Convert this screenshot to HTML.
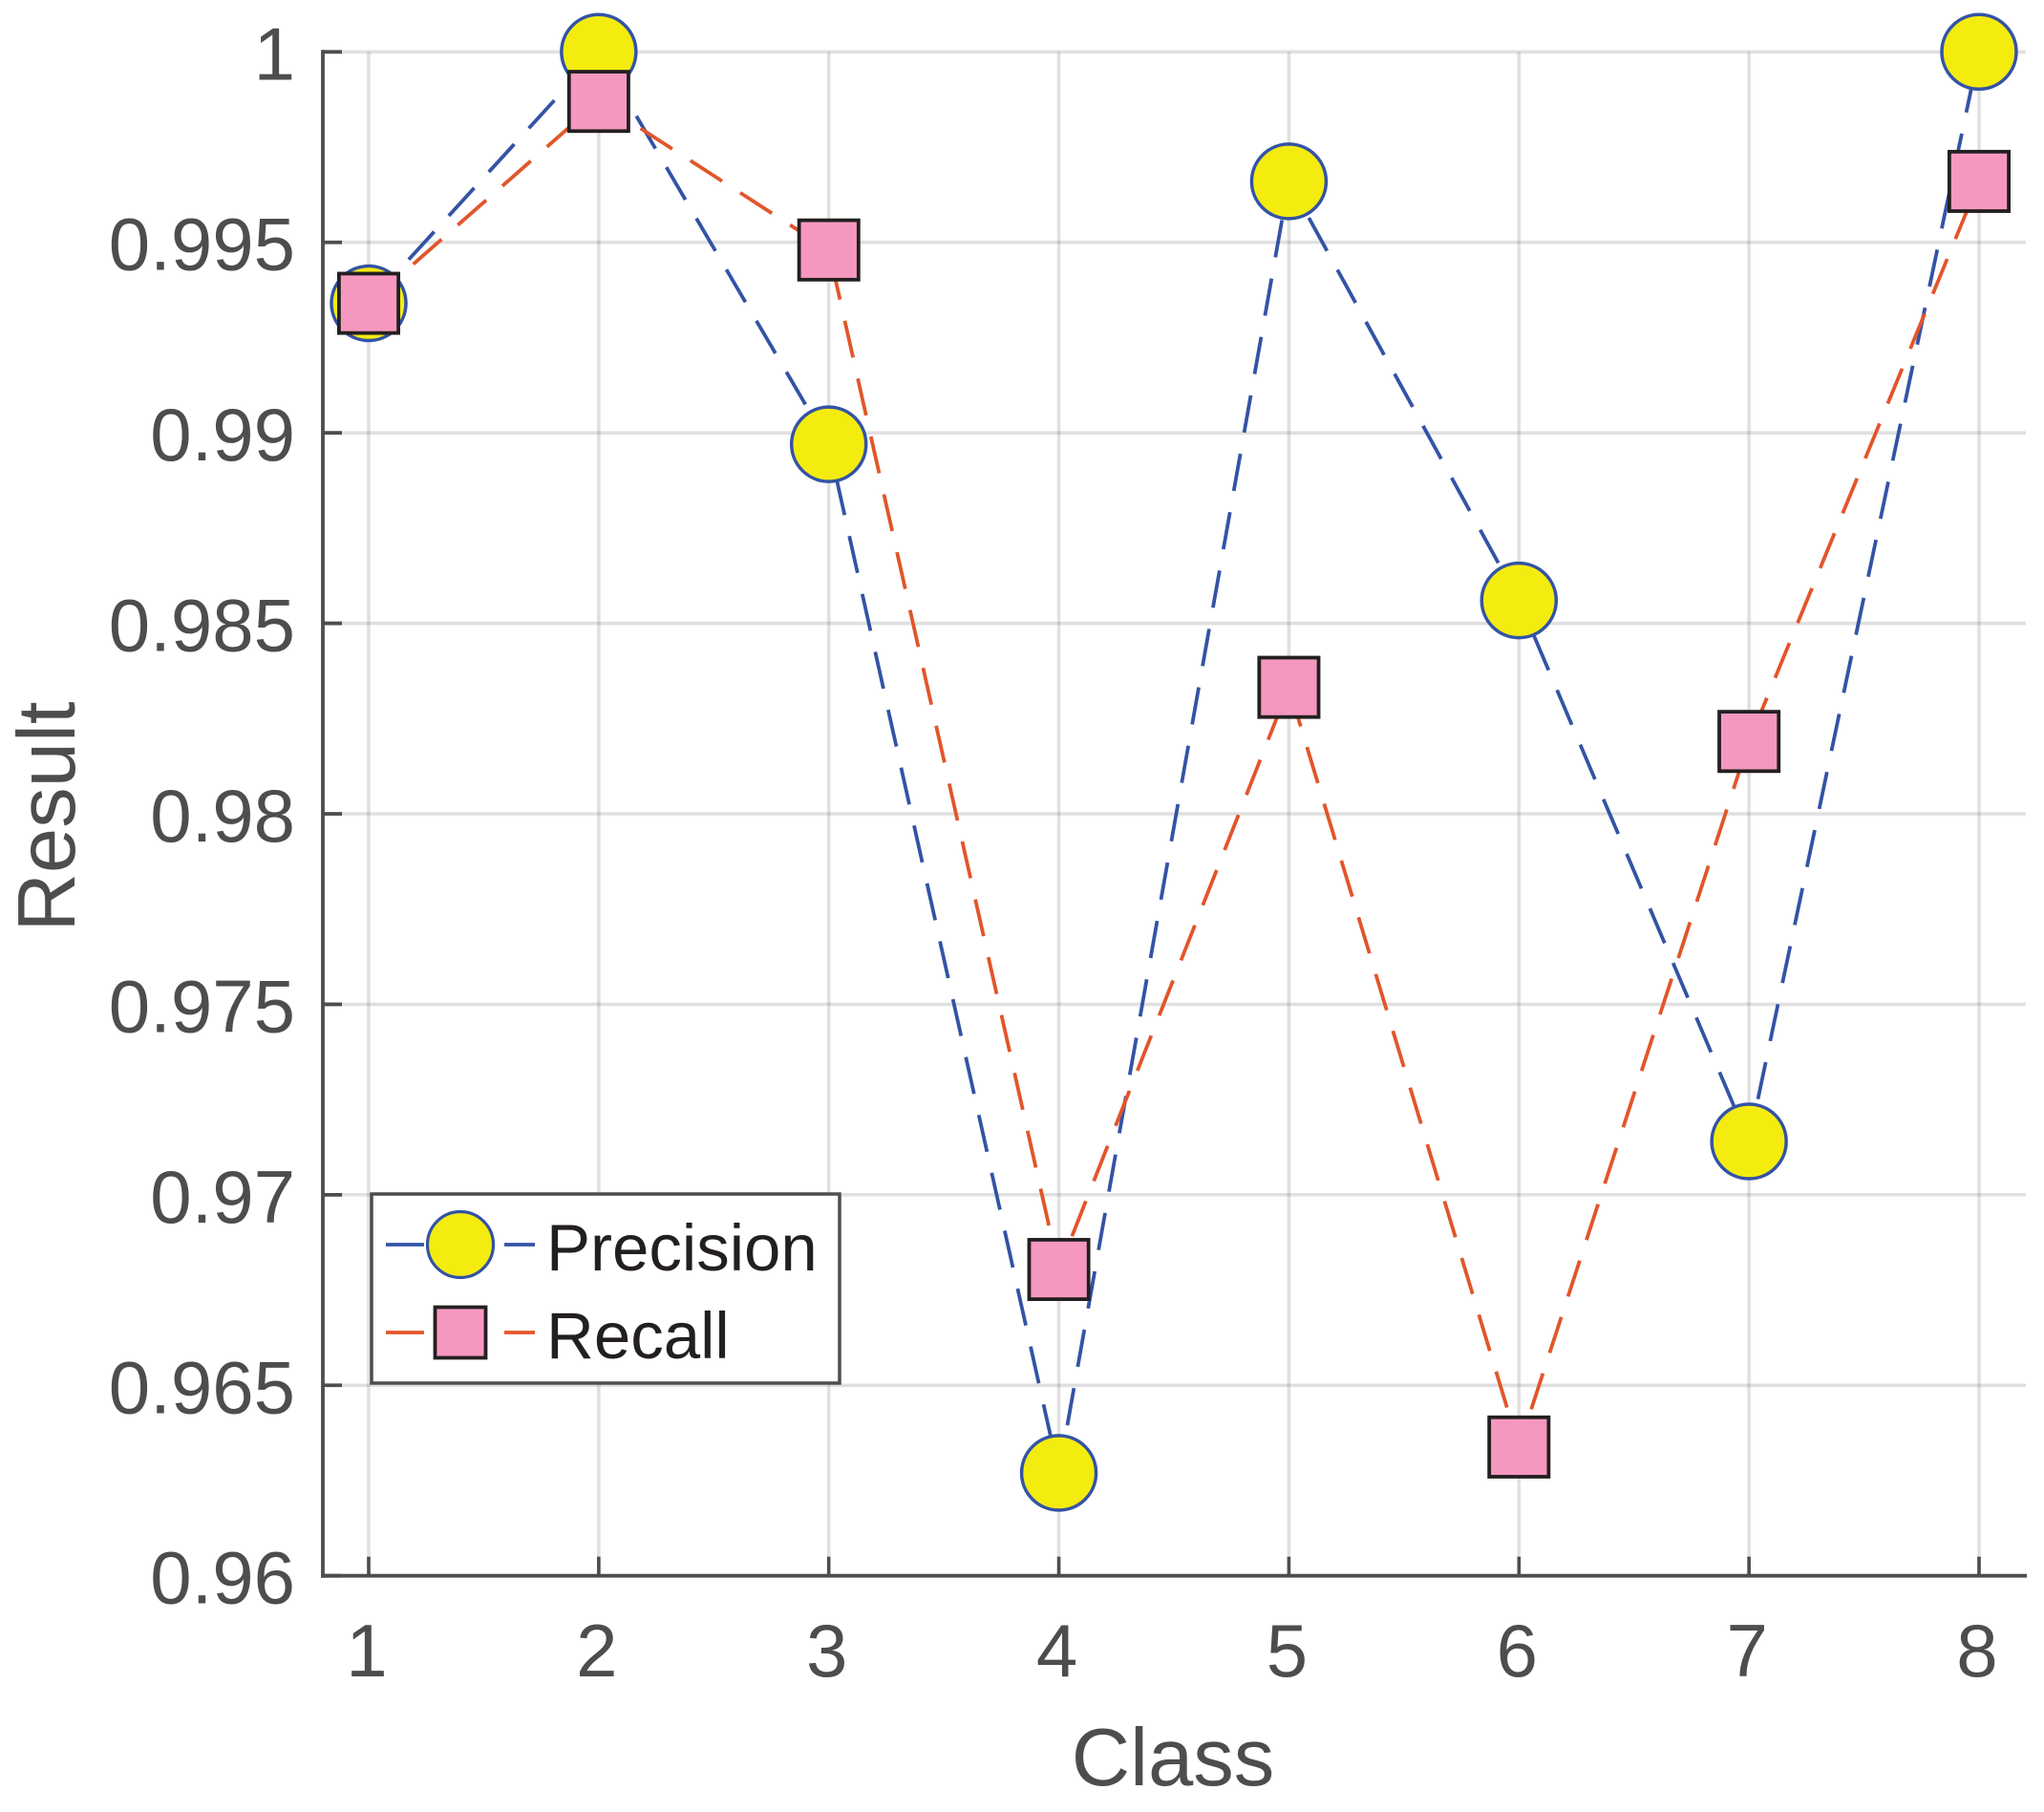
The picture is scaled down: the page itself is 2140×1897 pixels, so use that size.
<!DOCTYPE html>
<html lang="en">
<head>
<meta charset="utf-8">
<title>Precision and Recall by Class</title>
<style>
html,body{margin:0;padding:0;background:#fff;}
svg{display:block;}
text{font-family:"Liberation Sans",Arial,sans-serif;}
</style>
</head>
<body>
<svg id="chart" xmlns="http://www.w3.org/2000/svg" width="2140" height="1897" viewBox="0 0 2140 1897">
  <rect x="0" y="0" width="2140" height="1897" fill="#fff"/>
  <g id="grid"></g>
  <g id="axes"></g>
  <g id="series"></g>
  <text x="1228" y="1869" font-size="85" fill="#4d4d4f" text-anchor="middle">Class</text>
  <text transform="translate(78,855) rotate(-90)" font-size="85" fill="#4d4d4f" text-anchor="middle">Result</text>
  <g>
    <rect x="389" y="1250" width="490" height="198" fill="#fff" stroke="#4d4d4f" stroke-width="3.5"/>
    <g>
      <line x1="404" y1="1303" x2="444" y2="1303" stroke="#3353a5" stroke-width="3.8"/>
      <line x1="528" y1="1303" x2="560" y2="1303" stroke="#3353a5" stroke-width="3.8"/>
      <circle cx="482" cy="1303" r="34.5" fill="#f5ec0f" stroke="#3353a5" stroke-width="3.2"/>
      <text x="572" y="1330" font-size="69" fill="#231f20">Precision</text>
    </g>
    <g>
      <line x1="404" y1="1395" x2="444" y2="1395" stroke="#e2552a" stroke-width="3.8"/>
      <line x1="528" y1="1395" x2="560" y2="1395" stroke="#e2552a" stroke-width="3.8"/>
      <rect x="455.5" y="1368.5" width="53" height="53" fill="#f598c0" stroke="#231f20" stroke-width="3.8"/>
      <text x="572" y="1422" font-size="69" fill="#231f20">Recall</text>
    </g>
  </g>
</svg>
<script>
const categories = [1, 2, 3, 4, 5, 6, 7, 8];
const precisionValues = [0.9934, 1, 0.9897, 0.9627, 0.9966, 0.9856, 0.9714, 1];
const recallValues = [0.9934, 0.9987, 0.9948, 0.96804, 0.98332, 0.96338, 0.9819, 0.9966];
const yTicks = [0.96, 0.965, 0.97, 0.975, 0.98, 0.985, 0.99, 0.995, 1];
const yTickLabels = ['0.96', '0.965', '0.97', '0.975', '0.98', '0.985', '0.99', '0.995', '1'];

const NS = 'http://www.w3.org/2000/svg';
const plotLeft = 338, plotRight = 2121, plotTop = 54.3, plotBottom = 1649.7;
function xScale(v) { return 386 + (v - 1) * (2072 - 386) / 7; }
function yScale(v) { return plotBottom - (v - 0.96) * (plotBottom - plotTop) / 0.04; }
function make(tag, attrs, parent) {
  const el = document.createElementNS(NS, tag);
  for (const k in attrs) el.setAttribute(k, attrs[k]);
  parent.appendChild(el);
  return el;
}
const gridG = document.getElementById('grid');
const axesG = document.getElementById('axes');
const seriesG = document.getElementById('series');

yTicks.forEach(function (t, i) {
  const y = yScale(t);
  const g = make('line', {x1: plotLeft, y1: y, x2: plotRight, y2: y, stroke: '#58595b', 'stroke-opacity': 0.19, 'stroke-width': 3.6}, gridG);
  
  
  const tick = make('line', {x1: plotLeft, y1: y, x2: plotLeft + 20, y2: y, stroke: '#4d4d4f', 'stroke-width': 3.8}, axesG);
  
  
  const label = make('text', {x: 309, y: y + 29, 'font-size': 78, fill: '#4d4d4f', 'text-anchor': 'end'}, axesG);
  
  
  label.textContent = yTickLabels[i];
});

categories.forEach(function (c) {
  const x = xScale(c);
  const g = make('line', {x1: x, y1: plotTop, x2: x, y2: plotBottom, stroke: '#58595b', 'stroke-opacity': 0.19, 'stroke-width': 3.6}, gridG);
  
  
  const tick = make('line', {x1: x, y1: plotBottom, x2: x, y2: plotBottom - 20, stroke: '#4d4d4f', 'stroke-width': 3.6}, axesG);
  
  
  const label = make('text', {x: x - 2, y: 1755, 'font-size': 78, fill: '#4d4d4f', 'text-anchor': 'middle'}, axesG);
  
  
  label.textContent = String(c);
});

const yAxis = make('line', {x1: plotLeft, y1: plotTop - 2, x2: plotLeft, y2: plotBottom + 2, stroke: '#4d4d4f', 'stroke-width': 3.8}, axesG);


const xAxis = make('line', {x1: plotLeft - 2, y1: plotBottom, x2: plotRight + 1, y2: plotBottom, stroke: '#4d4d4f', 'stroke-width': 3.8}, axesG);



function linePoints(values) {
  return values.map(function (v, i) { return xScale(categories[i]) + ',' + yScale(v); }).join(' ');
}

const precisionLine = make('polyline', {points: linePoints(precisionValues), fill: 'none', stroke: '#3353a5', 'stroke-width': 3.8, 'stroke-dasharray': '39.5 22.6'}, seriesG);


precisionValues.forEach(function (v, i) {
  const m = make('circle', {cx: xScale(categories[i]), cy: yScale(v), r: 39, fill: '#f5ec0f', stroke: '#3353a5', 'stroke-width': 3.5}, seriesG);
  
  
});

const recallLine = make('polyline', {points: linePoints(recallValues), fill: 'none', stroke: '#e2552a', 'stroke-width': 3.8, 'stroke-dasharray': '39.5 22.6'}, seriesG);


recallValues.forEach(function (v, i) {
  const m = make('rect', {x: xScale(categories[i]) - 31.1, y: yScale(v) - 31.1, width: 62.2, height: 62.2, fill: '#f598c0', stroke: '#231f20', 'stroke-width': 3.8}, seriesG);
  
  
});
</script>
</body>
</html>
